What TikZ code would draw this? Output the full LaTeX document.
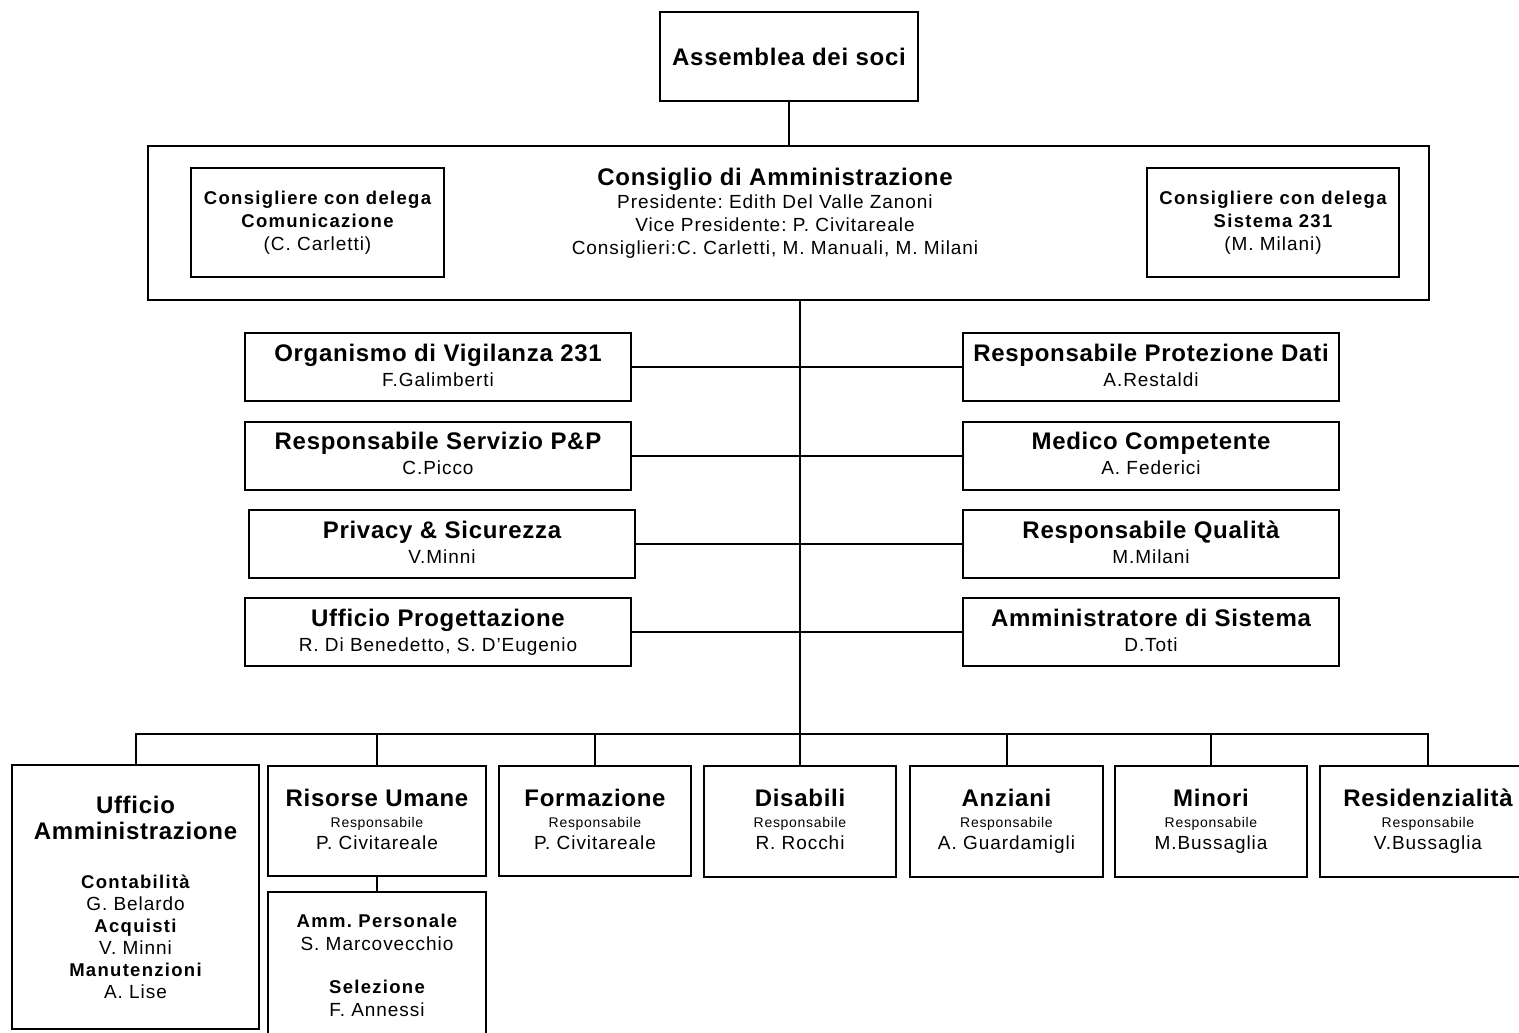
\documentclass[tikz,border=0pt]{standalone}
\usepackage{fontspec}
\setmainfont{Liberation Sans}[LetterSpace=5]
\usetikzlibrary{positioning}

\newcommand{\bigt}[1]{{\fontsize{24}{27}\selectfont\bfseries\addfontfeature{LetterSpace=3}#1}}
\newcommand{\subt}[1]{{\fontsize{18.5}{22}\selectfont\bfseries\addfontfeature{LetterSpace=7}#1}}
\newcommand{\resp}{{\fontsize{14}{15}\selectfont Responsabile}}

\begin{document}
\frenchspacing
\begin{tikzpicture}[x=1pt, y=-1pt, line width=2pt,
    node font=\fontsize{19}{23}\selectfont,
    box/.style={draw, line width=2pt, align=center, inner sep=0pt},
    sidebox/.style={box, minimum width=386pt, minimum height=68pt},
    rightbox/.style={box, minimum width=376pt, minimum height=68pt},
    unitbox/.style={box, minimum width=192pt, minimum height=111pt}]
    \useasboundingbox (0,0) rectangle (1519,1033);

    % Vertice
    \node (assemblea) [box, minimum width=258pt, minimum height=89pt] at (789,56.5) {\bigt{Assemblea dei soci}};
    \node (cda) [box, minimum width=1281pt, minimum height=154pt] at (788.5,223) {};
    \node (cdatext) [align=center] at (775,213.5) {\bigt{Consiglio di Amministrazione}\\[0pt]
        Presidente: Edith Del Valle Zanoni\\ Vice Presidente: P. Civitareale\\
        Consiglieri:C. Carletti, M. Manuali, M. Milani\vphantom{g}};
    \node (delcom) [box, minimum width=253pt, minimum height=109pt] at (317.5,222.5) {\subt{Consigliere con delega}\\ \subt{Comunicazione}\\ (C. Carletti)};
    \node (del231) [box, minimum width=252pt, minimum height=109pt] at (1273,222.5) {\subt{Consigliere con delega}\\ \subt{Sistema 231}\\ (M. Milani)};

    % Staff a sinistra
    \node (vigilanza) [sidebox] at (438,367) {\bigt{Organismo di Vigilanza 231}\\[2pt] F.Galimberti\vphantom{g}};
    \node (servpp) [sidebox] at (438,455.5) {\bigt{Responsabile Servizio P\&P}\\[2pt] C.Picco\vphantom{g}};
    \node (privacy) [sidebox] at (442,544) {\bigt{Privacy \& Sicurezza}\\[2pt] V.Minni\vphantom{g}};
    \node (progetti) [sidebox] at (438,632) {\bigt{Ufficio Progettazione}\\[2pt] R. Di Benedetto, S. D'Eugenio};

    % Staff a destra
    \node (dati) [rightbox] at (1151,367) {\bigt{Responsabile Protezione Dati}\\[2pt] A.Restaldi\vphantom{g}};
    \node (medico) [rightbox] at (1151,455.5) {\bigt{Medico Competente}\\[2pt] A. Federici\vphantom{g}};
    \node (qualita) [rightbox] at (1151,544) {\bigt{Responsabile Qualità}\\[2pt] M.Milani\vphantom{g}};
    \node (sistema) [rightbox] at (1151,632) {\bigt{Amministratore di Sistema}\\[2pt] D.Toti\vphantom{g}};

    % Aree
    \node (uffamm) [box, minimum width=247pt, minimum height=264pt] at (135.5,897) {\bigt{Ufficio}\\[3pt] \bigt{Amministrazione}\\[26pt]
        \subt{Contabilità}\\[-1pt] G. Belardo\\[-1pt] \subt{Acquisti}\\[-1pt] V. Minni\\[-1pt] \subt{Manutenzioni}\\[-1pt] A. Lise};
    \node (risorse) [unitbox, minimum width=218pt, minimum height=110pt] at (377,821) {\bigt{Risorse Umane}\\[-2pt] \resp\\[-1pt] P. Civitareale\vphantom{g}};
    \node (formazione) [unitbox, minimum height=110pt] at (595,821) {\bigt{Formazione}\\[-2pt] \resp\\[-1pt] P. Civitareale\vphantom{g}};
    \node (disabili) [unitbox] at (800,821.5) {\bigt{Disabili}\\[-2pt] \resp\\[-1pt] R. Rocchi\vphantom{g}};
    \node (anziani) [unitbox, minimum width=193pt] at (1006.5,821.5) {\bigt{Anziani}\\[-2pt] \resp\\[-1pt] A. Guardamigli};
    \node (minori) [unitbox] at (1211,821.5) {\bigt{Minori}\\[-2pt] \resp\\[-1pt] M.Bussaglia};
    \node (resid) [unitbox, minimum width=216pt] at (1428,821.5) {\bigt{Residenzialità}\\[-2pt] \resp\\[-1pt] V.Bussaglia};
    \node (personale) [box, minimum width=218pt, minimum height=146pt] at (377,965) {\subt{Amm. Personale}\\ S. Marcovecchio\\[20pt] \subt{Selezione}\\ F. Annessi};

    % Linee
    \coordinate (bus) at (800,734);
    \draw (assemblea.south) -- (assemblea.south |- cda.north);
    \draw (cda.south -| bus) -- (bus);
    \draw (vigilanza.east) -- (dati.west);
    \draw (servpp.east) -- (medico.west);
    \draw (privacy.east) -- (qualita.west);
    \draw (progetti.east) -- (sistema.west);
    \draw (uffamm.north) |- (bus) -| (resid.north);
    \draw (risorse.north) -- (risorse.north |- bus);
    \draw (formazione.north) -- (formazione.north |- bus);
    \draw (disabili.north) -- (disabili.north |- bus);
    \draw (anziani.north) -- (anziani.north |- bus);
    \draw (minori.north) -- (minori.north |- bus);
    \draw (risorse.south) -- (personale.north);
\end{tikzpicture}
\end{document}
